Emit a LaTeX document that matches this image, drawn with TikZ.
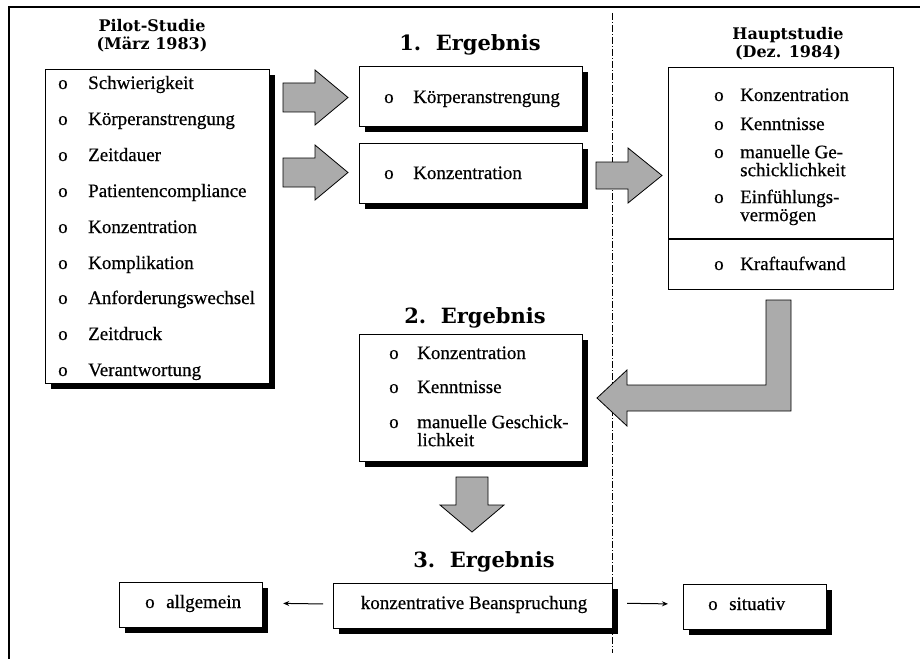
\documentclass[tikz,border=0pt]{standalone}
\usepackage{fontspec}
\setmainfont{Liberation Serif}[FakeBold=0.5]
\newfontfamily\titlefont{DejaVu Serif}
\usetikzlibrary{arrows.meta,shadows}
\tikzset{
  box/.style={draw, line width=1.2pt, fill=white, inner sep=0pt, anchor=north west},
  shbox/.style={box, drop shadow={shadow xshift=5.5pt, shadow yshift=-5.5pt, opacity=1, fill=black}},
  item/.style={anchor=base west, inner sep=0pt, font=\fontsize{19}{19}\selectfont},
  twoline/.style={anchor=north west, inner sep=0pt, align=left, font=\fontsize{19}{#1}\selectfont},
  ttl/.style={anchor=base, inner sep=0pt, font=\titlefont\bfseries\fontsize{21}{21}\selectfont},
  subttl/.style={align=center, inner sep=0pt, font=\titlefont\bfseries\fontsize{16}{18}\selectfont},
  blockarrow/.style={draw, line width=0.8pt, fill=black!33, line join=miter},
  smallarrow/.style={line width=1pt, -{Stealth[length=6pt,width=5pt]}}
}
\begin{document}
\begin{tikzpicture}[x=1pt,y=-1pt]
\useasboundingbox (0,0) rectangle (920,658);
% frame
\draw[line width=1.6pt] (9,670) -- (9,7) -- (930,7);
% dashed divider
\draw[line width=0.6pt, dash pattern=on 7pt off 2pt on 1pt off 2pt] (612,13) -- (612,653);

% Pilot-Studie
\node[subttl] (pilottitle) at (152,36) {Pilot-Studie\\(März 1983)};
\node[shbox, minimum width=224pt, minimum height=314pt] (pilot) at (45,69) {};
\foreach \t/\yb [count=\i] in {Schwierigkeit/89, Körperanstrengung/125, Zeitdauer/161, Patientencompliance/197, Konzentration/233, Komplikation/269, Anforderungswechsel/304, Zeitdruck/340, Verantwortung/376}{
  \node[item] (pb\i) at (58,\yb) {o};
  \node[item] (pt\i) at (88,\yb) {\t};
}

% 1. Ergebnis
\node[ttl] (erg1) at (470,51) {1.\ \ Ergebnis};
\node[shbox, minimum width=223pt, minimum height=60pt] (e1a) at (359,66) {};
\node[item] (e1ab) at (384,103) {o};
\node[item] (e1at) at (413,103) {Körperanstrengung};
\node[shbox, minimum width=223pt, minimum height=60pt] (e1b) at (359,143) {};
\node[item] (e1bb) at (384,179) {o};
\node[item] (e1bt) at (413,179) {Konzentration};

% block arrows pilot -> 1. Ergebnis
\draw[blockarrow] (283,83) -- (315,83) -- (315,70) -- (348,97.5) -- (315,125) -- (315,112) -- (283,112) -- cycle;
\draw[blockarrow] (283,158) -- (315,158) -- (315,145) -- (348,172.5) -- (315,200) -- (315,187) -- (283,187) -- cycle;
% arrow -> Hauptstudie
\draw[blockarrow] (596,162) -- (628,162) -- (628,148) -- (662,175.5) -- (628,203) -- (628,189) -- (596,189) -- cycle;

% Hauptstudie
\node[subttl] (haupttitle) at (788,43.5) {Hauptstudie\\(Dez. 1984)};
\node[box, minimum width=225pt, minimum height=222pt] (haupt) at (668,67) {};
\draw[line width=1.2pt] (668,239) -- (893,239);
\node[item] (hb1) at (714,101) {o};
\node[item] (ht1) at (740,101) {Konzentration};
\node[item] (hb2) at (714,130) {o};
\node[item] (ht2) at (740,130) {Kenntnisse};
\node[item] (hb3) at (714,158) {o};
\node[twoline=18] (ht3) at (740,144.8) {manuelle Ge-\\schicklichkeit};
\node[item] (hb4) at (714,203) {o};
\node[twoline=18] (ht4) at (740,189.5) {Einfühlungs-\\vermögen};
\node[item] (hb5) at (714,270) {o};
\node[item] (ht5) at (740,270) {Kraftaufwand};

% L-shaped arrow -> 2. Ergebnis
\draw[blockarrow] (766,300) -- (791,300) -- (791,411) -- (627,411) -- (627,426) -- (597,398) -- (627,370) -- (627,385) -- (766,385) -- cycle;

% 2. Ergebnis
\node[ttl] (erg2) at (475,323) {2.\ \ Ergebnis};
\node[shbox, minimum width=223pt, minimum height=127pt] (e2) at (359,334) {};
\node[item] (e2b1) at (389,359) {o};
\node[item] (e2t1) at (417,359) {Konzentration};
\node[item] (e2b2) at (389,393) {o};
\node[item] (e2t2) at (417,393) {Kenntnisse};
\node[item] (e2b3) at (389,428) {o};
\node[twoline=18] (e2t3) at (417,414.8) {manuelle Geschick-\\lichkeit};

% down arrow
\draw[blockarrow] (456,477) -- (488,477) -- (488,505) -- (504,505) -- (472,532) -- (440,505) -- (456,505) -- cycle;

% 3. Ergebnis
\node[ttl] (erg3) at (484,567) {3.\ \ Ergebnis};
\node[shbox, minimum width=279pt, minimum height=45pt] (kb) at (333,583) {};
\node[item, anchor=base] (kbt) at (474,609) {konzentrative Beanspruchung};
\node[shbox, minimum width=143pt, minimum height=45pt] (allg) at (119,582) {};
\node[item] (allgb) at (145,608) {o};
\node[item] (allgt) at (166,608) {allgemein};
\node[shbox, minimum width=143pt, minimum height=45pt] (sit) at (683,584) {};
\node[item] (sitb) at (708,610) {o};
\node[item] (sitt) at (729,610) {situativ};

\draw[smallarrow, shorten <=10pt, shorten >=20pt] ([yshift=2pt]kb.west) -- ([yshift=2pt]allg.east);
\draw[smallarrow, shorten <=14pt, shorten >=15pt] ([yshift=3pt]kb.east) -- ([yshift=3pt]sit.west);
\end{tikzpicture}
\end{document}
